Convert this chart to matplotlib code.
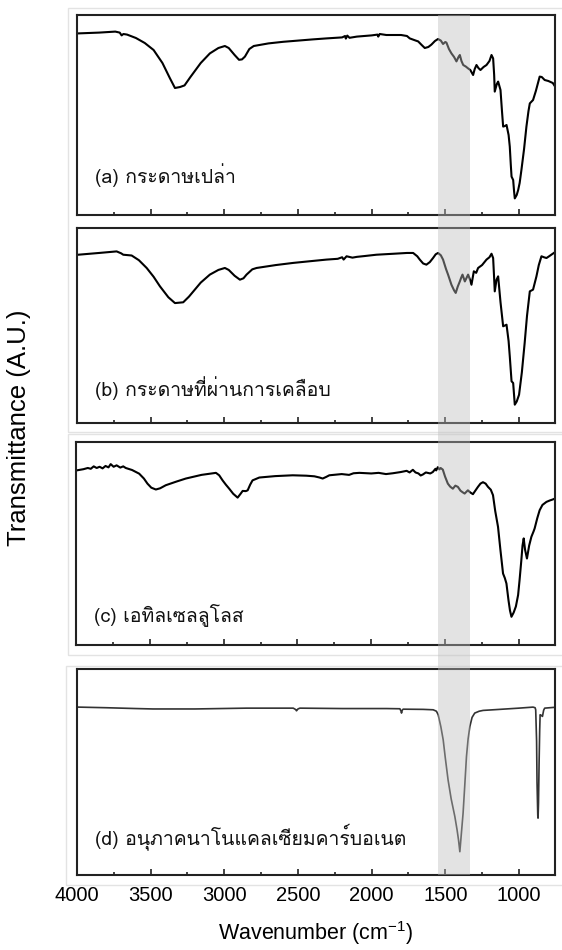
import matplotlib
matplotlib.use('Agg')
import matplotlib.pyplot as plt
import matplotlib.transforms as mtransforms
from matplotlib.patches import Rectangle
from matplotlib import font_manager
from matplotlib.ft2font import FT2Font

# pick any installed font that has Thai glyphs
THAI = None
for f in font_manager.fontManager.ttflist:
    try:
        if 0x0E01 in FT2Font(f.fname).get_charmap():
            THAI = f.name
            break
    except Exception:
        pass
FAMILY = [THAI, 'Liberation Sans', 'DejaVu Sans'] if THAI else ['Liberation Sans', 'DejaVu Sans']

plt.rcParams['font.family'] = ['Liberation Sans', 'DejaVu Sans']
plt.rcParams['mathtext.default'] = 'regular'

# ---- data (wavenumber cm-1, transmittance A.U.) ----
wn_a = [3991, 3850, 3740, 3710, 3697, 3685, 3660, 3600, 3540, 3480, 3420, 3370, 3335, 3300,
        3270, 3230, 3160, 3098, 3040, 2996, 2970, 2930, 2900, 2880, 2860, 2830, 2800, 2700,
        2600, 2500, 2400, 2306, 2200, 2180, 2175, 2165, 2150, 2100, 2000, 1960, 1955, 1945,
        1900, 1800, 1760, 1741, 1700, 1684, 1660, 1639, 1615, 1594, 1570, 1549, 1530, 1515,
        1500, 1492, 1475, 1458, 1440, 1424, 1410, 1401, 1390, 1378, 1360, 1345, 1330, 1311,
        1300, 1288, 1275, 1261, 1240, 1220, 1200, 1186, 1175, 1168, 1164, 1150, 1141, 1125,
        1115, 1107, 1095, 1084, 1070, 1062, 1055, 1050, 1039, 1033, 1028, 1015, 1005, 995,
        983, 965, 949, 935, 926, 904, 885, 859, 845, 825, 800, 791, 770, 757]
t_a = [0.908, 0.912, 0.917, 0.912, 0.898, 0.905, 0.902, 0.885, 0.860, 0.825, 0.760, 0.685,
       0.635, 0.640, 0.648, 0.690, 0.760, 0.808, 0.835, 0.845, 0.835, 0.800, 0.776, 0.778,
       0.792, 0.830, 0.845, 0.858, 0.866, 0.872, 0.878, 0.883, 0.888, 0.895, 0.882, 0.897,
       0.886, 0.892, 0.898, 0.902, 0.892, 0.905, 0.900, 0.900, 0.895, 0.883, 0.872, 0.868,
       0.850, 0.835, 0.840, 0.852, 0.870, 0.880, 0.872, 0.855, 0.865, 0.862, 0.830, 0.808,
       0.790, 0.768, 0.790, 0.800, 0.770, 0.750, 0.742, 0.733, 0.725, 0.700, 0.730, 0.750,
       0.735, 0.725, 0.740, 0.750, 0.770, 0.800, 0.783, 0.700, 0.617, 0.655, 0.667, 0.625,
       0.520, 0.442, 0.445, 0.450, 0.400, 0.342, 0.250, 0.192, 0.175, 0.120, 0.083, 0.100,
       0.125, 0.160, 0.225, 0.330, 0.442, 0.520, 0.558, 0.575, 0.620, 0.692, 0.690, 0.675,
       0.670, 0.667, 0.660, 0.645]

wn_b = [3991, 3850, 3731, 3700, 3686, 3629, 3580, 3527, 3480, 3437, 3380, 3335, 3279, 3240,
        3160, 3098, 3040, 2996, 2970, 2930, 2894, 2870, 2849, 2810, 2781, 2650, 2532, 2400,
        2306, 2230, 2200, 2190, 2170, 2130, 2100, 2050, 1967, 1850, 1760, 1718, 1690, 1673,
        1650, 1628, 1605, 1583, 1565, 1549, 1530, 1515, 1495, 1481, 1458, 1440, 1429, 1415,
        1401, 1392, 1383, 1367, 1355, 1345, 1332, 1322, 1306, 1290, 1277, 1250, 1220, 1200,
        1186, 1178, 1175, 1168, 1164, 1152, 1141, 1125, 1107, 1084, 1070, 1062, 1050, 1039,
        1028, 1015, 999, 980, 961, 945, 926, 904, 881, 865, 847, 830, 813, 795, 780, 757]
t_b = [0.863, 0.872, 0.880, 0.870, 0.863, 0.859, 0.835, 0.795, 0.750, 0.701, 0.645, 0.615,
       0.619, 0.648, 0.720, 0.761, 0.785, 0.795, 0.785, 0.755, 0.735, 0.742, 0.761, 0.788,
       0.795, 0.810, 0.821, 0.831, 0.838, 0.842, 0.850, 0.838, 0.855, 0.848, 0.852, 0.856,
       0.863, 0.868, 0.872, 0.872, 0.855, 0.838, 0.818, 0.812, 0.825, 0.846, 0.865, 0.872,
       0.860, 0.838, 0.790, 0.761, 0.709, 0.680, 0.667, 0.700, 0.726, 0.745, 0.761, 0.726,
       0.745, 0.761, 0.735, 0.709, 0.778, 0.770, 0.795, 0.810, 0.838, 0.850, 0.868, 0.852,
       0.846, 0.740, 0.675, 0.735, 0.752, 0.620, 0.496, 0.504, 0.420, 0.342, 0.214, 0.205,
       0.094, 0.110, 0.145, 0.260, 0.410, 0.550, 0.675, 0.684, 0.752, 0.810, 0.855, 0.850,
       0.846, 0.855, 0.863, 0.875]

wn_c = [3989, 3950, 3920, 3900, 3880, 3860, 3840, 3820, 3800, 3780, 3765, 3745, 3725, 3700,
        3680, 3663, 3620, 3572, 3540, 3516, 3490, 3459, 3430, 3392, 3320, 3256, 3150, 3052,
        3030, 3007, 2985, 2962, 2935, 2905, 2885, 2871, 2850, 2837, 2820, 2804, 2758, 2650,
        2532, 2440, 2385, 2350, 2329, 2305, 2284, 2200, 2150, 2120, 2080, 2000, 1950, 1900,
        1854, 1800, 1760, 1740, 1718, 1700, 1680, 1665, 1650, 1630, 1600, 1583, 1565, 1560,
        1549, 1538, 1530, 1515, 1500, 1481, 1465, 1447, 1430, 1413, 1395, 1380, 1367, 1355,
        1345, 1330, 1311, 1295, 1277, 1260, 1243, 1225, 1209, 1190, 1175, 1160, 1141, 1125,
        1107, 1095, 1084, 1070, 1060, 1050, 1035, 1020, 1005, 995, 983, 975, 967, 958, 945,
        930, 915, 900, 893, 875, 859, 840, 813, 790, 770, 757]
t_c = [0.861, 0.866, 0.872, 0.868, 0.880, 0.872, 0.878, 0.870, 0.882, 0.875, 0.891, 0.878,
       0.885, 0.874, 0.880, 0.872, 0.862, 0.844, 0.820, 0.795, 0.775, 0.766, 0.772, 0.787,
       0.805, 0.820, 0.838, 0.848, 0.836, 0.811, 0.790, 0.770, 0.745, 0.726, 0.745, 0.759,
       0.758, 0.762, 0.790, 0.811, 0.825, 0.832, 0.836, 0.834, 0.831, 0.825, 0.820, 0.828,
       0.836, 0.842, 0.838, 0.846, 0.848, 0.845, 0.848, 0.842, 0.846, 0.852, 0.858, 0.850,
       0.863, 0.850, 0.845, 0.835, 0.840, 0.850, 0.845, 0.852, 0.868, 0.860, 0.876, 0.865,
       0.872, 0.864, 0.830, 0.795, 0.780, 0.770, 0.785, 0.779, 0.760, 0.752, 0.746, 0.755,
       0.762, 0.752, 0.743, 0.760, 0.779, 0.795, 0.802, 0.795, 0.779, 0.765, 0.738, 0.660,
       0.582, 0.470, 0.352, 0.330, 0.303, 0.220, 0.170, 0.139, 0.160, 0.190, 0.246, 0.320,
       0.418, 0.490, 0.525, 0.470, 0.426, 0.490, 0.533, 0.560, 0.574, 0.625, 0.664, 0.690,
       0.705, 0.712, 0.717, 0.721]

wn_d = [3991, 3800, 3600, 3484, 3200, 2849, 2600, 2532, 2515, 2510, 2500, 2487, 2200, 1900,
        1808, 1800, 1797, 1792, 1786, 1650, 1582, 1560, 1548, 1530, 1514, 1500, 1481, 1460,
        1435, 1420, 1410, 1401, 1392, 1379, 1368, 1356, 1345, 1333, 1318, 1300, 1270, 1243,
        1175, 1000, 904, 890, 886, 880, 877, 872, 870, 867, 863, 859, 856, 848, 840, 832,
        825, 757]
t_d = [0.815, 0.812, 0.808, 0.806, 0.806, 0.810, 0.810, 0.810, 0.803, 0.797, 0.806, 0.810,
       0.808, 0.808, 0.807, 0.795, 0.786, 0.800, 0.805, 0.804, 0.802, 0.795, 0.778, 0.720,
       0.656, 0.570, 0.462, 0.370, 0.284, 0.220, 0.170, 0.113, 0.190, 0.300, 0.430, 0.575,
       0.660, 0.721, 0.765, 0.786, 0.795, 0.799, 0.802, 0.810, 0.815, 0.812, 0.802, 0.650,
       0.450, 0.290, 0.276, 0.350, 0.543, 0.700, 0.778, 0.775, 0.770, 0.800, 0.810, 0.814]

labels = ['(a) กระดาษเปล่า', '(b) กระดาษที่ผ่านการเคลือบ',
          '(c) เอทิลเซลลูโลส', '(d) อนุภาคนาโนแคลเซียมคาร์บอเนต']
band = (1550, 1330)
xticks = [4000, 3500, 3000, 2500, 2000, 1500, 1000]

W, H = 562, 950
fig = plt.figure(figsize=(W / 100, H / 100), dpi=100)

# panel boxes in pixels: (left, top, right, bottom)
boxes = [(77, 15, 555, 215), (77, 228, 555, 423), (76, 442, 555, 645), (77, 669, 555, 875)]
label_y = [0.20, 0.18, 0.15, 0.18]
series = [(wn_a, t_a, 'black', 1.5), (wn_b, t_b, 'black', 1.5),
          (wn_c, t_c, 'black', 1.5), (wn_d, t_d, '#333333', 1.2)]

# faint frames around the panel images
for l, t, r, b in [(68, 8, 600, 432), (68, 434, 600, 655), (66, 666, 600, 885)]:
    fig.add_artist(Rectangle((l / W, 1 - b / H), (r - l) / W, (b - t) / H,
                             transform=fig.transFigure, fill=False,
                             edgecolor='#e3e3e3', lw=1.0, zorder=-1))

axes = []
for i, ((l, t, r, b), (wn, tr, col, lw)) in enumerate(zip(boxes, series)):
    ax = fig.add_axes([l / W, 1 - b / H, (r - l) / W, (b - t) / H])
    ax.plot(wn, tr, color=col, lw=lw)
    ax.set_xlim(4000, 755)
    ax.set_ylim(0, 1)
    ax.set_yticks([])
    ax.set_xticks(xticks)
    ax.set_xticks(range(3750, 755, -500), minor=True)
    ax.tick_params(axis='x', which='major', direction='in', length=4, width=1.2,
                   labelsize=14.5, pad=8, color='#222222')
    ax.tick_params(axis='x', which='minor', direction='in', length=2.5, width=1.2,
                   color='#222222')
    if i < 3:
        ax.tick_params(axis='x', labelbottom=False)
    for s in ax.spines.values():
        s.set_linewidth(1.5)
        s.set_color('#222222')
    ax.text(0.038, label_y[i], labels[i], transform=ax.transAxes, fontsize=14,
            family=FAMILY, va='center', ha='left', color='#111111')
    axes.append(ax)

axes[3].set_xlabel('Wavenumber (cm$^{-1}$)', fontsize=15.5, labelpad=10)

# grey band across all panels
trans = mtransforms.blended_transform_factory(axes[3].transData, fig.transFigure)
y0, y1 = 1 - 875 / H, 1 - 15 / H
fig.add_artist(Rectangle((band[0], y0), band[1] - band[0], y1 - y0, transform=trans,
                         facecolor='#bdbdbd', edgecolor='none', alpha=0.42, zorder=10))

fig.text(0.034, 1 - 428 / H, 'Transmittance (A.U.)', rotation=90, fontsize=18.5,
         ha='center', va='center')

fig.savefig('out.png', dpi=100, facecolor='white')
